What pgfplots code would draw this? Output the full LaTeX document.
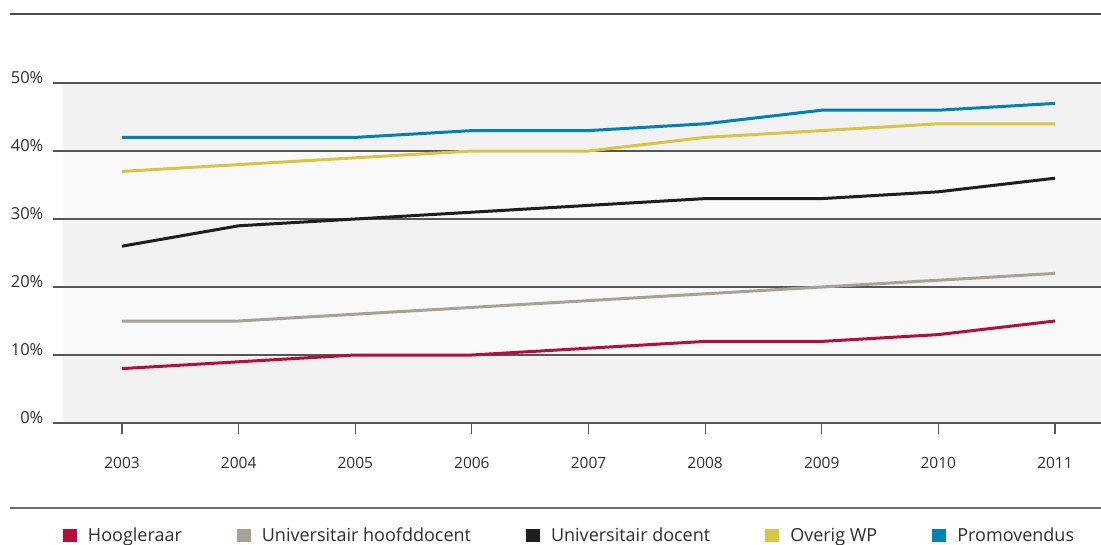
\documentclass[border=0pt]{standalone}
\usepackage{pgfplots}
\pgfplotsset{compat=1.18}
\usepackage{fontspec}
\setmainfont{Open Sans}
\definecolor{hoog}{RGB}{181,14,59}
\definecolor{uhd}{RGB}{168,162,150}
\definecolor{docent}{RGB}{30,30,30}
\definecolor{overig}{RGB}{218,196,68}
\definecolor{promo}{RGB}{0,130,180}
\definecolor{bandA}{RGB}{242,242,242}
\definecolor{bandB}{RGB}{249,249,249}
\definecolor{gridc}{RGB}{85,85,85}
\definecolor{textc}{RGB}{45,45,45}
\begin{document}
\begin{tikzpicture}
\draw[line width=2.5pt, color=gridc!90!black] (10pt,-14pt) -- (1101pt,-14pt);
\draw[line width=2pt, color=gray!85!black] (10pt,-508pt) -- (1101pt,-508pt);
\begin{axis}[
  set layers=standard,
  at={(63pt,-423pt)}, anchor=south west,
  scale only axis, width=1038pt, height=340pt,
  xmin=2002.494, xmax=2011.394, ymin=0, ymax=50,
  axis line style={draw=none},
  xtick={2003,2004,2005,2006,2007,2008,2009,2010,2011},
  xticklabels={2003,2004,2005,2006,2007,2008,2009,2010,2011},
  ytick={0,10,20,30,40,50},
  yticklabels={0\%,10\%,20\%,30\%,40\%,50\%},
  tick align=outside, xtick pos=bottom, ytick pos=left,
  major tick length=10.5pt,
  xtick style={draw=gridc, line width=1.2pt},
  ytick style={draw=gridc, line width=1.5pt},
  ymajorgrids, grid style={draw=gridc, line width=1.5pt},
  xticklabel style={font=\fontsize{15.5}{18}\selectfont, text=textc, anchor=base, yshift=-35pt},
  yticklabel style={font=\fontsize{16.5}{20}\selectfont, text=textc, anchor=base east, inner sep=0pt, xshift=-9pt},
  clip=false,
  legend columns=5,
  legend style={at={(0,-0.3309)}, anchor=west, draw=none, fill=none, inner sep=0pt, outer sep=0pt,
    font=\fontsize{18}{20}\selectfont, text=textc,
    /tikz/every odd column/.style={column sep=11pt},
    /tikz/every even column/.style={column sep=55pt},
    nodes={inner sep=0pt}},
  legend image code/.code={\fill[#1, draw=none] (0pt,-6.5pt) rectangle (14pt,6.5pt);},
  every axis plot/.append style={line width=3pt, line join=round, no markers},
]
\begin{pgfonlayer}{axis background}
\fill[bandA] (rel axis cs:0,0) rectangle (rel axis cs:1,0.2);
\fill[bandB] (rel axis cs:0,0.2) rectangle (rel axis cs:1,0.4);
\fill[bandA] (rel axis cs:0,0.4) rectangle (rel axis cs:1,0.6);
\fill[bandB] (rel axis cs:0,0.6) rectangle (rel axis cs:1,0.8);
\fill[bandA] (rel axis cs:0,0.8) rectangle (rel axis cs:1,1);
\end{pgfonlayer}
\addplot[color=hoog] coordinates {(2003,8)(2004,9)(2005,10)(2006,10)(2007,11)(2008,12)(2009,12)(2010,13)(2011,15)};
\addlegendentry{Hoogleraar}
\addplot[color=uhd] coordinates {(2003,15)(2004,15)(2005,16)(2006,17)(2007,18)(2008,19)(2009,20)(2010,21)(2011,22)};
\addlegendentry{Universitair hoofddocent}
\addplot[color=docent] coordinates {(2003,26)(2004,29)(2005,30)(2006,31)(2007,32)(2008,33)(2009,33)(2010,34)(2011,36)};
\addlegendentry{Universitair docent}
\addplot[color=overig] coordinates {(2003,37)(2004,38)(2005,39)(2006,40)(2007,40)(2008,42)(2009,43)(2010,44)(2011,44)};
\addlegendentry{Overig WP}
\addplot[color=promo] coordinates {(2003,42)(2004,42)(2005,42)(2006,43)(2007,43)(2008,44)(2009,46)(2010,46)(2011,47)};
\addlegendentry{Promovendus}
\end{axis}
\pgfresetboundingbox
\useasboundingbox (0pt,0pt) rectangle (1101pt,-545pt);
\end{tikzpicture}
\end{document}
